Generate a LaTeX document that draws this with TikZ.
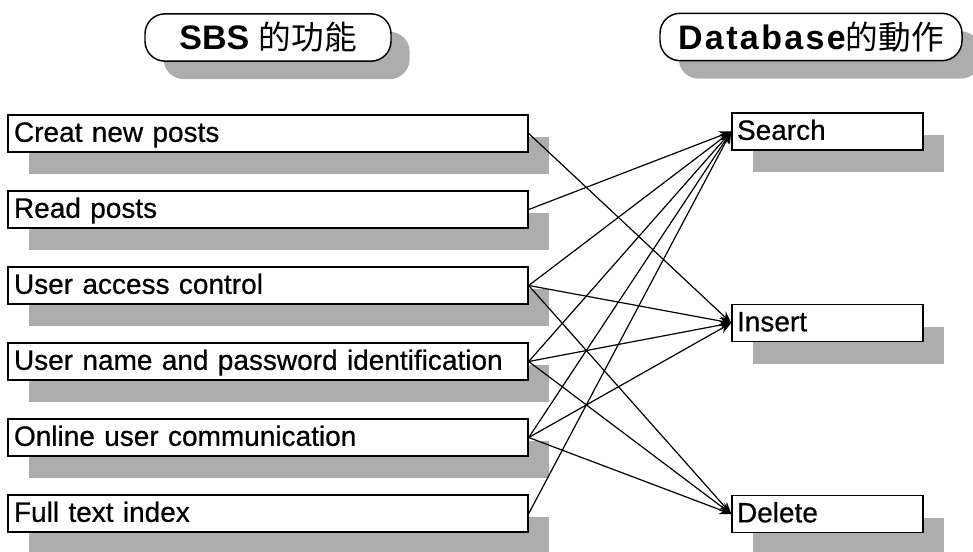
\documentclass[tikz,border=0pt]{standalone}
\usepackage{fontspec}
\setmainfont{Liberation Sans}
\newfontfamily\boxfont[FakeBold=0.6]{Liberation Sans}
\newfontfamily\cjk{Noto Sans CJK TC}
\usetikzlibrary{arrows.meta,shadows}
\definecolor{shd}{gray}{0.68}
\begin{document}
\begin{tikzpicture}[x=0.75pt,y=-0.75pt,
  lbox/.style={draw=black,line width=1.1pt,fill=white,
    minimum width=390pt,minimum height=27.75pt,inner xsep=4.5pt,inner ysep=0pt,
    text width=381pt,text height=16pt,text depth=3.5pt,align=left,
    font=\boxfont\fontsize{21}{24}\selectfont,
    drop shadow={shadow xshift=16pt,shadow yshift=-16.5pt,fill=shd,opacity=1}},
  rbox/.style={lbox,minimum width=143.25pt,text width=135.75pt,inner xsep=3.75pt},
  titlebox/.style={draw=black,line width=1.1pt,fill=white,rounded corners=15pt,
    inner sep=0pt,minimum height=35.5pt,
    font=\fontsize{25.5}{28}\selectfont\bfseries,
    drop shadow={shadow xshift=14pt,shadow yshift=-13.5pt,fill=shd,opacity=1}},
  conn/.style={line width=0.9pt,-{Stealth[length=9pt,width=7pt]}}]
\useasboundingbox (0,0) rectangle (973,552);
% titles
\node[titlebox,minimum width=184.5pt] (t1) at (268,37.5)
  {SBS {\mdseries\cjk\fontsize{24.5}{28}\selectfont 的功能}};
\node[titlebox,minimum width=226.5pt] (t2) at (811,37)
  {{\addfontfeature{LetterSpace=7}Database}{\mdseries\cjk\fontsize{24.5}{28}\selectfont 的動作}};
% left boxes
\node[lbox] (l1) at (268,133.5) {Creat new posts};
\node[lbox] (l2) at (268,209.5) {Read posts};
\node[lbox] (l3) at (268,285.5) {User access control};
\node[lbox] (l4) at (268,361.5) {User name and password identification};
\node[lbox] (l5) at (268,437.5) {Online user communication};
\node[lbox] (l6) at (268,513.5) {Full text index};
% right boxes
\node[rbox] (r1) at (827.5,131.5) {Search};
\node[rbox] (r2) at (827.5,323) {Insert};
\node[rbox] (r3) at (827.5,514) {Delete};
% connectors
\draw[conn] (l1.east) -- (r2.west);
\draw[conn] (l2.east) -- (r1.west);
\draw[conn] (l3.east) -- (r1.west);
\draw[conn] (l3.east) -- (r2.west);
\draw[conn] (l3.east) -- (r3.west);
\draw[conn] (l4.east) -- (r1.west);
\draw[conn] (l4.east) -- (r2.west);
\draw[conn] (l4.east) -- (r3.west);
\draw[conn] (l5.east) -- (r1.west);
\draw[conn] (l5.east) -- (r2.west);
\draw[conn] (l5.east) -- (r3.west);
\draw[conn] (l6.east) -- (r1.west);
\end{tikzpicture}
\end{document}
